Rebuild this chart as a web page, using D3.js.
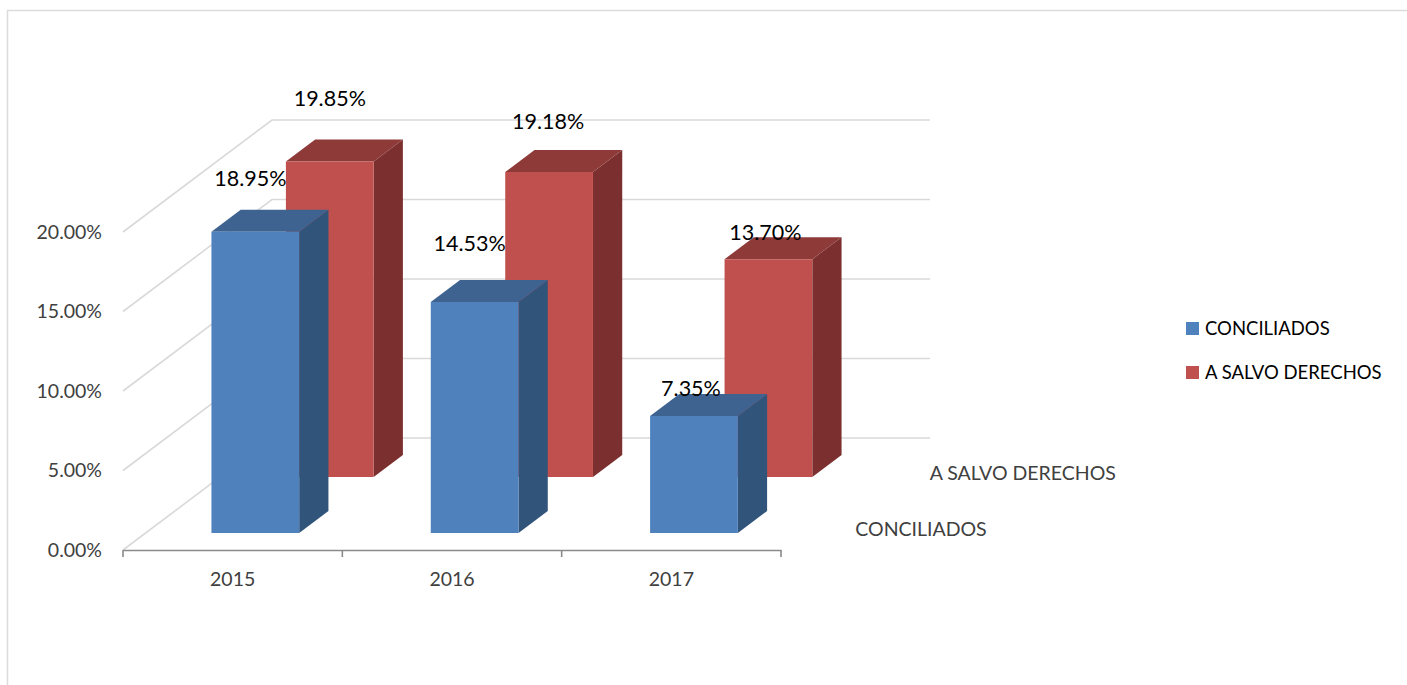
<!DOCTYPE html>
<html>
<head>
<meta charset="utf-8">
<script src="https://cdn.jsdelivr.net/npm/d3@7"></script>
<style>
    html, body { margin: 0; padding: 0; background: #fff; overflow: hidden; }
    text { font-family: Lato, "Open Sans", sans-serif; }
</style>
</head>
<body>
<div id="chart"></div>
<script>
// Chart values
const years = ['2015', '2016', '2017'];
const seriesNames = ['CONCILIADOS', 'A SALVO DERECHOS'];
const conciliados = [18.95, 14.53, 7.35];
const aSalvoDerechos = [19.85, 19.18, 13.70];
const yTicks = [0, 5, 10, 15, 20];

// Colors per series: front, side and top face
const colorMap = {
    'CONCILIADOS': { front: '#4f81bd', side: '#31547b', top: '#3e6390' },
    'A SALVO DERECHOS': { front: '#c0504d', side: '#7b2f2e', top: '#8e3a38' }
};

const width = 1407;
const height = 685;

// The floor runs from the front plane to the back wall along this vector
const depthX = 149;
const depthY = -112;

// Hand placed data labels, shift from the top front centre of each bar
const labelShift = {
    'CONCILIADOS': [[-5, -53], [-5, -58], [-3, -28]],
    'A SALVO DERECHOS': [[0, -63], [-1, -51], [-3, -27]]
};

const svg = d3.select('#chart').append('svg')
    .attr('width', width)
    .attr('height', height);

// Chart area border, only top and left are inside the picture
svg.append('path')
    .attr('d', `M7.5,${height}V10.5H${width}`)
    .attr('fill', 'none')
    .attr('stroke', '#dcdcdc')
    .attr('stroke-width', 1.5);

const xScale = d3.scaleBand()
    .domain(years)
    .range([123, 781])
    .paddingInner(0.6)
    .paddingOuter(0.3);

const yScale = d3.scaleLinear()
    .domain([0, 20])
    .range([550, 232]);

const depthScale = d3.scaleBand()
    .domain(seriesNames)
    .range([0, 1])
    .paddingInner(0.607)
    .paddingOuter(0.304);

function project(x, y, t) {
    return [x + depthX * t, y + depthY * t];
}

function polygon(points) {
    return 'M' + points.map(p => p.join(',')).join('L') + 'Z';
}

// Gridlines: up the side wall, then across the back wall
svg.append('g').selectAll('path')
    .data(yTicks)
    .join('path')
    .attr('d', d => {
        const y = yScale(d);
        const back = project(123, y, 1);
        return `M123,${y}L${back[0]},${back[1]}H930`;
    })
    .attr('fill', 'none')
    .attr('stroke', '#d9d9d9')
    .attr('stroke-width', 1.6);

// Y axis labels
const yAxisG = svg.append('g')
    .attr('transform', 'translate(123,0)')
    .call(d3.axisLeft(yScale)
        .tickValues(yTicks)
        .tickSize(0)
        .tickPadding(21)
        .tickFormat(d => d.toFixed(2) + '%'));
yAxisG.select('.domain').remove();
yAxisG.selectAll('text')
    .attr('fill', '#404040')
    .style('font-size', '19.5px');

// X axis line and labels
const xAxisG = svg.append('g')
    .attr('transform', `translate(0,${yScale(0)})`)
    .call(d3.axisBottom(xScale).tickSize(0).tickPadding(22));
xAxisG.select('.domain')
    .attr('stroke', '#8a8a8a')
    .attr('stroke-width', 1.6);
xAxisG.selectAll('text')
    .attr('fill', '#404040')
    .style('font-size', '19.5px');

// Category boundary ticks
const xBoundaries = [...years.map(d => xScale(d) - xScale.step() * 0.3), xScale.range()[1]];
xAxisG.selectAll('.boundary')
    .data(xBoundaries)
    .join('line')
    .attr('class', 'boundary')
    .attr('x1', d => d)
    .attr('x2', d => d)
    .attr('y1', 0)
    .attr('y2', 7)
    .attr('stroke', '#8a8a8a')
    .attr('stroke-width', 1.6);

// Series names along the depth axis
svg.append('g').selectAll('text')
    .data(seriesNames)
    .join('text')
    .attr('x', d => project(781, yScale(0), depthScale(d) + depthScale.bandwidth() / 2)[0] + 37)
    .attr('y', d => project(781, yScale(0), depthScale(d) + depthScale.bandwidth() / 2)[1] + 7)
    .attr('dy', '0.35em')
    .attr('fill', '#404040')
    .style('font-size', '19.5px')
    .text(d => d);

// Bars, back series first so the front one covers it
const valuesBySeries = {
    'CONCILIADOS': conciliados,
    'A SALVO DERECHOS': aSalvoDerechos
};

function barCorners(name, year, value) {
    const x0 = xScale(year);
    const x1 = x0 + xScale.bandwidth();
    const t0 = depthScale(name);
    const t1 = t0 + depthScale.bandwidth();
    const base = yScale(0);
    const top = yScale(value);
    return {
        frontTopLeft: project(x0, top, t0),
        frontTopRight: project(x1, top, t0),
        frontBottomLeft: project(x0, base, t0),
        frontBottomRight: project(x1, base, t0),
        backTopLeft: project(x0, top, t1),
        backTopRight: project(x1, top, t1),
        backBottomRight: project(x1, base, t1)
    };
}

[...seriesNames].reverse().forEach(name => {
    const colors = colorMap[name];
    const bars = svg.append('g').selectAll('g')
        .data(years.map((year, i) => barCorners(name, year, valuesBySeries[name][i])))
        .join('g');

    bars.append('path')
        .attr('d', c => polygon([c.frontTopRight, c.backTopRight, c.backBottomRight, c.frontBottomRight]))
        .attr('fill', colors.side);
    bars.append('path')
        .attr('d', c => polygon([c.frontTopLeft, c.backTopLeft, c.backTopRight, c.frontTopRight]))
        .attr('fill', colors.top);
    bars.append('path')
        .attr('d', c => polygon([c.frontTopLeft, c.frontTopRight, c.frontBottomRight, c.frontBottomLeft]))
        .attr('fill', colors.front);
});

// Data labels sit above every bar
seriesNames.forEach(name => {
    svg.append('g').selectAll('text')
        .data(valuesBySeries[name])
        .join('text')
        .attr('x', (d, i) => {
            const c = barCorners(name, years[i], d);
            return (c.frontTopLeft[0] + c.frontTopRight[0]) / 2 + labelShift[name][i][0];
        })
        .attr('y', (d, i) => barCorners(name, years[i], d).frontTopLeft[1] + labelShift[name][i][1])
        .attr('dy', '0.35em')
        .attr('text-anchor', 'middle')
        .attr('fill', '#000')
        .style('font-size', '21.5px')
        .text(d => d.toFixed(2) + '%');
});

// Legend
const legend = svg.append('g').selectAll('g')
    .data(seriesNames)
    .join('g')
    .attr('transform', (d, i) => `translate(1186,${322 + i * 44})`);
legend.append('rect')
    .attr('width', 13)
    .attr('height', 13)
    .attr('fill', d => colorMap[d].front);
legend.append('text')
    .attr('x', 19)
    .attr('y', 7)
    .attr('dy', '0.35em')
    .attr('fill', '#000')
    .style('font-size', '18.5px')
    .text(d => d);
</script>
</body>
</html>
